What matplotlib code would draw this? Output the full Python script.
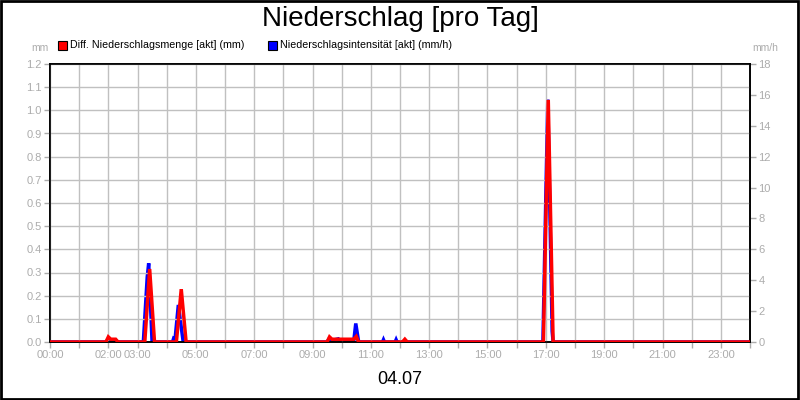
import matplotlib
matplotlib.use("Agg")
import matplotlib.pyplot as plt
from matplotlib.patches import Rectangle

plt.rcParams['font.family'] = ['Liberation Sans', 'DejaVu Sans']

# Diff. Niederschlagsmenge [mm], sparse: only points around showers, zeros elsewhere
menge_zeit = ["00:00", "01:55", "02:00", "02:05", "02:15", "02:20",
              "03:15", "03:25", "03:35", "04:20", "04:30", "04:40",
              "09:30", "09:35", "09:40", "10:25", "10:30", "10:35",
              "12:05", "12:10", "12:15", "16:55", "17:05", "17:15", "24:00"]
menge_mm = [0, 0, 0.022, 0.012, 0.012, 0,
            0, 0.315, 0, 0, 0.228, 0,
            0, 0.022, 0.012, 0.012, 0.024, 0,
            0, 0.012, 0, 0, 1.045, 0, 0]

# Niederschlagsintensitaet [mm/h]
int_zeit = ["00:00", "01:55", "02:00", "02:05", "02:15", "02:20",
            "03:12", "03:20", "03:23", "03:30",
            "04:12", "04:14", "04:17", "04:24", "04:34",
            "09:30", "09:35", "09:40", "09:53", "09:55", "10:25", "10:29", "10:35",
            "11:24", "11:26", "11:28", "11:50", "11:52", "11:54",
            "16:54", "17:04", "17:13", "17:15", "24:00"]
int_mmh = [0, 0, 0.15, 0.1, 0.1, 0,
           0, 4.2, 5.1, 0,
           0, 0.2, 0.1, 2.4, 0,
           0, 0.25, 0.1, 0.2, 0.1, 0.1, 1.2, 0,
           0, 0.15, 0, 0, 0.15, 0,
           0, 15.7, 0.7, 0, 0]

hour_labels = {0: "00:00", 2: "02:00", 3: "03:00", 5: "05:00", 7: "07:00",
               9: "09:00", 11: "11:00", 13: "13:00", 15: "15:00", 17: "17:00",
               19: "19:00", 21: "21:00", 23: "23:00"}
left_ticks = [0.0, 0.1, 0.2, 0.3, 0.4, 0.5, 0.6, 0.7, 0.8, 0.9, 1.0, 1.1, 1.2]
right_ticks = [0, 2, 4, 6, 8, 10, 12, 14, 16, 18]


def to_hours(s):
    h, m = s.split(":")
    return int(h) + int(m) / 60.0


grey = '#acacac'
gridc = '#c0c0c0'

fig = plt.figure(figsize=(8, 4), dpi=100)
fig.patches.append(Rectangle((0.001, 0.002), 0.997, 0.995, transform=fig.transFigure,
                             fill=False, edgecolor='black', linewidth=2))

ax = fig.add_axes([0.0625, 0.145, 0.875, 0.695])
ax2 = ax.twinx()

ax.set_xlim(0, 24)
ax.set_ylim(0, 1.2)
ax2.set_ylim(0, 18)

ax.set_xticks(range(25))
ax.set_xticklabels([hour_labels.get(h, "") for h in range(25)])
ax.set_yticks(left_ticks)
ax.set_yticklabels([f"{v:.1f}" for v in left_ticks])
ax2.set_yticks(right_ticks)

ax.grid(True, color=gridc, linewidth=1)
ax.set_axisbelow(True)

for a in (ax, ax2):
    a.tick_params(colors=grey, labelsize=8, length=4, width=1, pad=2)
    for sp in a.spines.values():
        sp.set_color('black')
        sp.set_linewidth(1.2)

ax2.set_zorder(ax.zorder - 1)
ax.patch.set_visible(False)

ax2.plot([to_hours(t) for t in int_zeit], int_mmh, color='#0000ff', linewidth=2.5,
         solid_joinstyle='miter')
ax.plot([to_hours(t) for t in menge_zeit], menge_mm, color='#ff0000', linewidth=2.5,
        solid_joinstyle='miter', zorder=3)

fig.text(0.5, 1 - 19 / 400, "Niederschlag [pro Tag]", ha='center', va='center', fontsize=20)
fig.text(0.5, 1 - 379 / 400, "04.07", ha='center', va='center', fontsize=13)

# legend
fig.patches.append(Rectangle((58 / 800, 1 - 50 / 400), 9 / 800, 9 / 400, transform=fig.transFigure,
                             facecolor='#ff0000', edgecolor='black', linewidth=0.8))
fig.text(70 / 800, 1 - 45.5 / 400, "Diff. Niederschlagsmenge [akt] (mm)", ha='left', va='center',
         fontsize=7.7)
fig.patches.append(Rectangle((268 / 800, 1 - 50 / 400), 9 / 800, 9 / 400, transform=fig.transFigure,
                             facecolor='#0000ff', edgecolor='black', linewidth=0.8))
fig.text(280 / 800, 1 - 45.5 / 400, "Niederschlagsintensität [akt] (mm/h)", ha='left', va='center',
         fontsize=7.7)

fig.text(40 / 800, 1 - 48 / 400, "mm", ha='center', va='center', fontsize=7.5, color=grey)
fig.text(765 / 800, 1 - 48 / 400, "mm/h", ha='center', va='center', fontsize=7.5, color=grey)

fig.savefig("out.png", dpi=100)
